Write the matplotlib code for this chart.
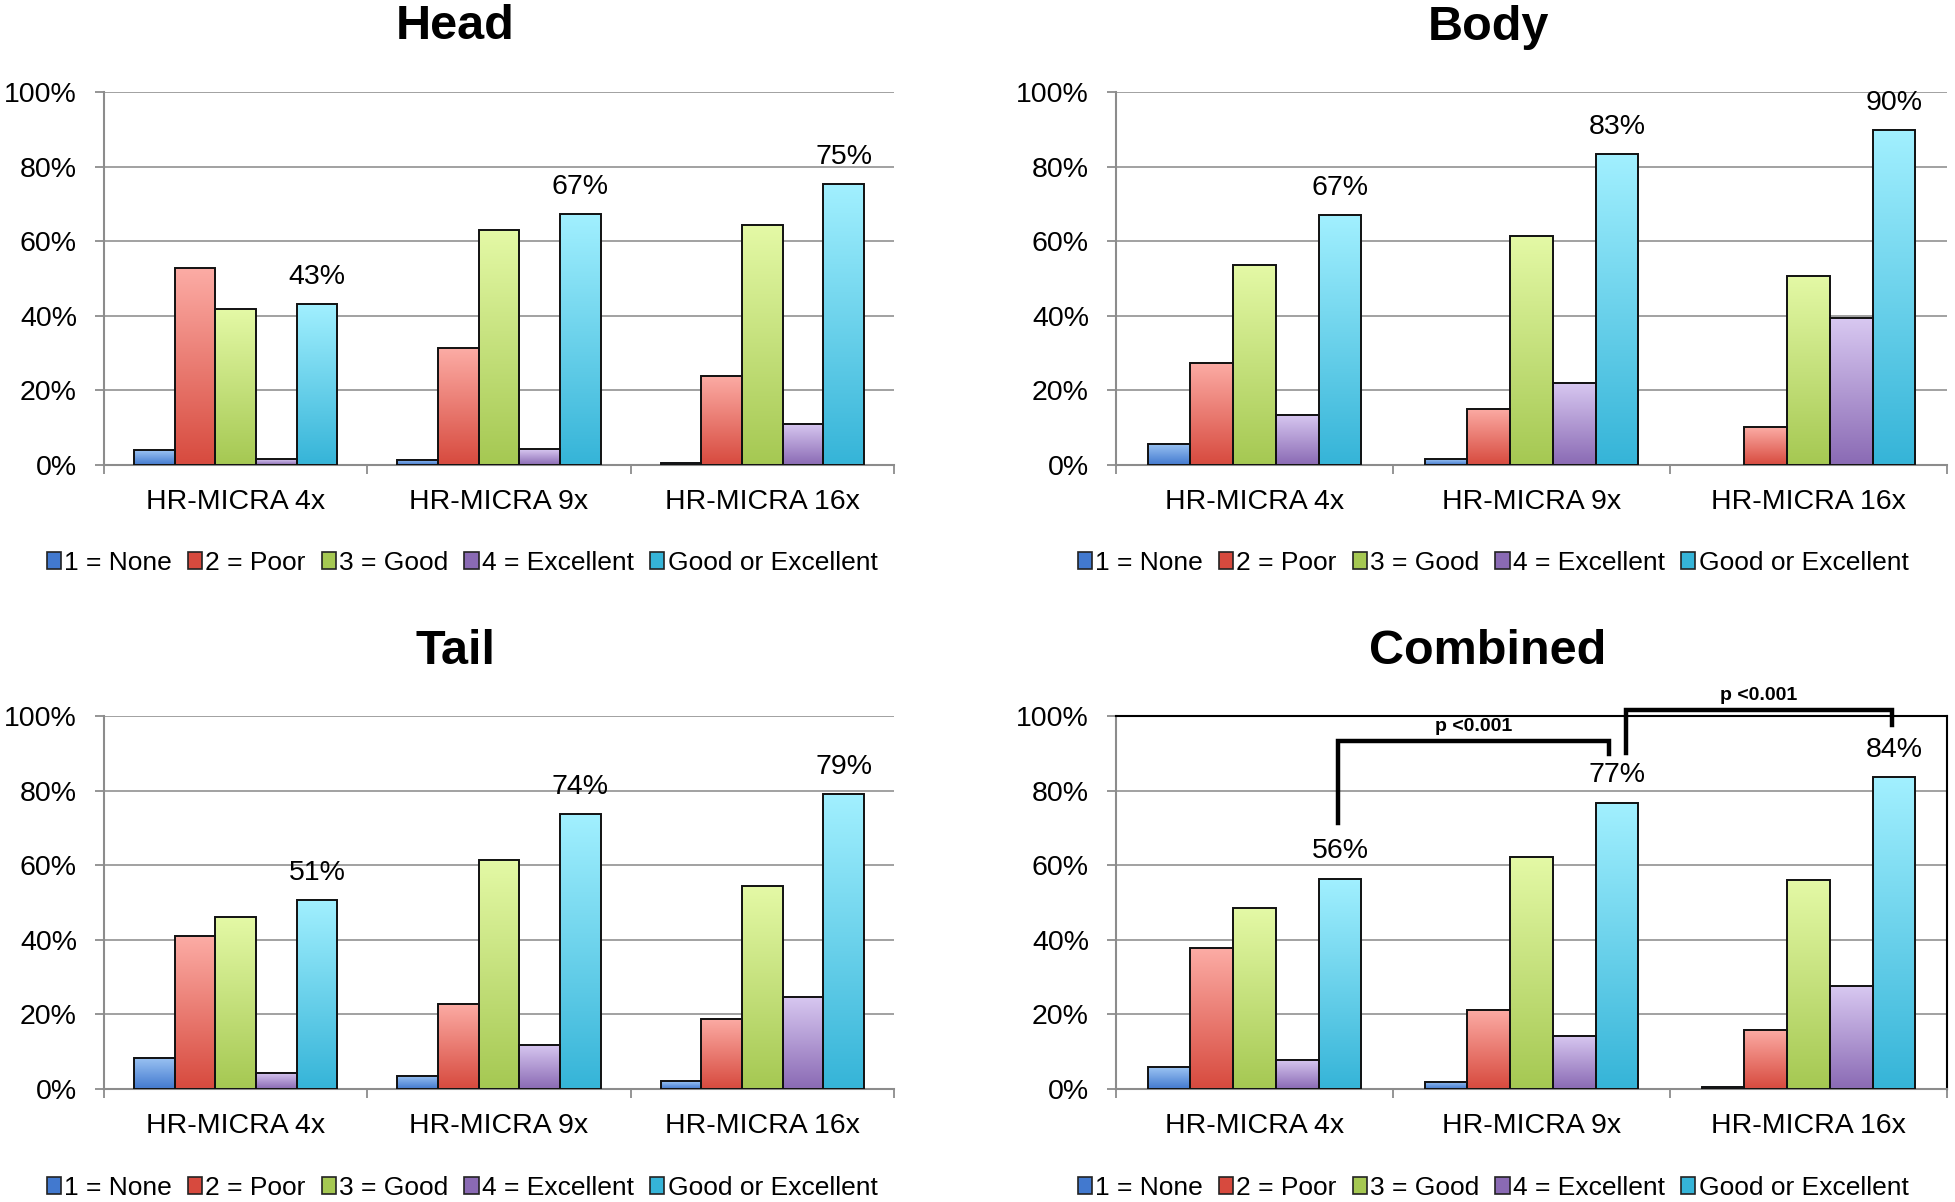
import numpy as np
import matplotlib
matplotlib.use('Agg')
import matplotlib.pyplot as plt
from matplotlib.colors import LinearSegmentedColormap
from matplotlib.patches import Patch

plt.rcParams['font.family'] = ['Liberation Sans', 'DejaVu Sans']

groups = ['HR-MICRA 4x', 'HR-MICRA 9x', 'HR-MICRA 16x']
series = ['1 = None', '2 = Poor', '3 = Good', '4 = Excellent', 'Good or Excellent']

# percentages per series, one value per group (4x, 9x, 16x)
head = {
    'none': [3.9, 1.4, 0.6],
    'poor': [52.8, 31.3, 23.9],
    'good': [41.8, 63.0, 64.3],
    'excellent': [1.6, 4.2, 11.0],
    'goe': [43.2, 67.3, 75.3],
}
body = {
    'none': [5.7, 1.6, 0.0],
    'poor': [27.4, 15.1, 10.1],
    'good': [53.6, 61.5, 50.8],
    'excellent': [13.5, 22.0, 39.4],
    'goe': [66.9, 83.4, 89.9],
}
tail = {
    'none': [8.4, 3.5, 2.1],
    'poor': [40.9, 22.8, 18.9],
    'good': [46.0, 61.4, 54.3],
    'excellent': [4.4, 11.9, 24.7],
    'goe': [50.7, 73.6, 79.0],
}
combined = {
    'none': [5.8, 1.9, 0.6],
    'poor': [37.7, 21.2, 15.9],
    'good': [48.5, 62.3, 55.9],
    'excellent': [7.9, 14.3, 27.5],
    'goe': [56.4, 76.8, 83.6],
}
keys = ['none', 'poor', 'good', 'excellent', 'goe']

# (top colour, bottom colour) of the gradient fill
grad_colors = {
    'none': ('#9cc4f3', '#4279cf'),
    'poor': ('#fcaca5', '#d74a3e'),
    'good': ('#e4f9a6', '#a5c852'),
    'excellent': ('#d8c8f1', '#8a6ab4'),
    'goe': ('#a2f0ff', '#35b4d8'),
}

# significance brackets on the Combined panel: x0, x1, y_left, y_top, y_right, text
brackets = [
    (0.30, 1.28, 71.3, 93.3, 89.9, 'p <0.001'),
    (1.34, 2.30, 90.1, 101.5, 97.5, 'p <0.001'),
]

W, H = 1955, 1202
fig = plt.figure(figsize=(W / 100, H / 100), dpi=100)

bar_w = 0.1545
offsets = (np.arange(5) - 2) * bar_w
grad = np.linspace(0, 1, 256).reshape(-1, 1)


def draw_panel(rect, data, title, title_xy, legend_xy, framed=False):
    ax = fig.add_axes(rect)
    x = np.arange(len(groups))
    for k, key in enumerate(keys):
        cmap = LinearSegmentedColormap.from_list(key, [grad_colors[key][1], grad_colors[key][0]])
        vals = np.array(data[key])
        for i, v in enumerate(vals):
            if v <= 0:
                continue
            x0 = x[i] + offsets[k] - bar_w / 2
            ax.imshow(grad, extent=[x0, x0 + bar_w, 0, v], aspect='auto',
                      cmap=cmap, origin='lower', zorder=2, interpolation='bilinear')
        keep = vals > 0
        ax.bar((x + offsets[k])[keep], vals[keep], width=bar_w, facecolor='none',
               edgecolor='#111111', linewidth=1.4, zorder=3)
    for i, v in enumerate(data['goe']):
        ax.text(x[i] + offsets[4], v + 5.4, f'{round(v)}%', ha='center', va='baseline',
                fontsize=20.5, zorder=4)

    ax.set_xlim(-0.5, 2.5)
    ax.set_ylim(0, 100)
    ax.set_yticks(np.arange(0, 101, 20))
    ax.set_yticklabels([f'{t}%' for t in range(0, 101, 20)], fontsize=20.5)
    ax.yaxis.grid(True, color='#9a9a9a', linewidth=1.3, zorder=0)
    ax.set_axisbelow(True)
    ax.set_xticks([-0.5, 0.5, 1.5, 2.5])
    ax.set_xticklabels([])
    ax.set_xticks(x, minor=True)
    ax.set_xticklabels(groups, minor=True, fontsize=20.5)
    ax.tick_params(axis='x', which='major', length=6.5, width=1.3, color='#8c8c8c')
    ax.tick_params(axis='x', which='minor', length=0, pad=17)
    ax.tick_params(axis='y', length=6.5, width=1.3, color='#8c8c8c', pad=13)
    for s in ['left', 'bottom']:
        ax.spines[s].set_color('#8c8c8c')
        ax.spines[s].set_linewidth(1.5)
    if framed:
        for s in ['top', 'right']:
            ax.spines[s].set_color('black')
            ax.spines[s].set_linewidth(1.5)
    else:
        ax.spines['top'].set_visible(False)
        ax.spines['right'].set_visible(False)

    fig.text(title_xy[0], title_xy[1], title, ha='center', va='baseline',
             fontsize=35, fontweight='bold')

    handles = [Patch(facecolor=grad_colors[k][1], edgecolor='#222222', linewidth=1.2)
               for k in keys]
    fig.legend(handles, series, loc='center', bbox_to_anchor=legend_xy, ncol=5,
               frameon=False, fontsize=19, handlelength=0.55, handleheight=0.6,
               handletextpad=0.12, columnspacing=0.6, borderaxespad=0)
    return ax


left_col = (104 / W, (894 - 104) / W)
right_col = (1116 / W, (1947 - 1116) / W)
top_row = (1 - 465 / H, (465 - 92) / H)
bot_row = (1 - 1089 / H, (1089 - 716) / H)

draw_panel([left_col[0], top_row[0], left_col[1], top_row[1]], head, 'Head',
           (455 / W, 1 - 39 / H), (462 / W, 1 - 563 / H))
draw_panel([right_col[0], top_row[0], right_col[1], top_row[1]], body, 'Body',
           (1488 / W, 1 - 40 / H), (1493 / W, 1 - 563 / H))
draw_panel([left_col[0], bot_row[0], left_col[1], bot_row[1]], tail, 'Tail',
           (455 / W, 1 - 664 / H), (462 / W, 1 - 1188 / H))
axc = draw_panel([right_col[0], bot_row[0], right_col[1], bot_row[1]], combined, 'Combined',
                 (1488 / W, 1 - 664 / H), (1493 / W, 1 - 1188 / H), framed=True)

for x0, x1, yl, yt, yr, txt in brackets:
    axc.plot([x0, x0, x1, x1], [yl, yt, yt, yr], color='black', linewidth=3.2,
             solid_joinstyle='miter', clip_on=False, zorder=5)
    axc.text((x0 + x1) / 2, yt + 1.6, txt, ha='center', va='bottom', fontsize=14,
             fontweight='bold', clip_on=False)

fig.savefig('out.png', dpi=100, facecolor='white')
